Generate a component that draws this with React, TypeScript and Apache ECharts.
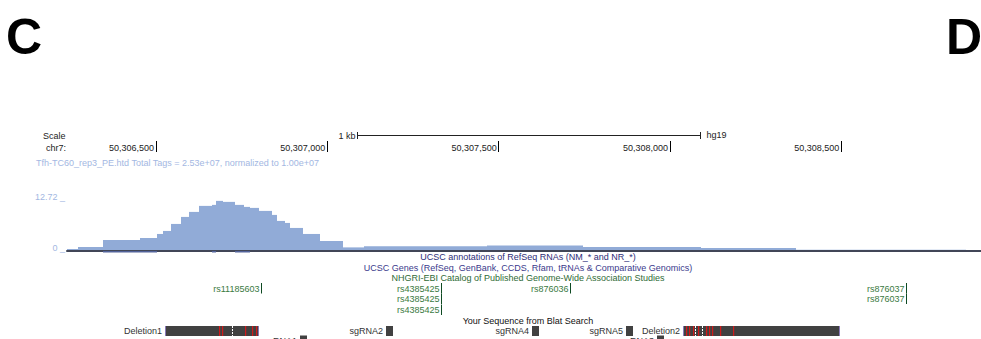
import React, { useEffect, useRef } from "react";
import * as echarts from "echarts";

// ---------- data ----------
const AXIS_MIN = 50306240;
const AXIS_MAX = 50308908;
const POSITION_TICKS = [50306500, 50307000, 50307500, 50308000, 50308500];
const COVERAGE_MAX = 12.72;
const COVERAGE_TICKS = [0, 12.72];

// coverage histogram (bin edges in bp, values normalized tags)
const BIN_EDGES = [
  50306240, 50306272, 50306345, 50306453, 50306503, 50306520, 50306544, 50306573,
  50306596, 50306626, 50306664, 50306675, 50306696, 50306731, 50306757, 50306774,
  50306801, 50306839, 50306853, 50306877, 50306891, 50306929, 50306979, 50307046,
  50307107, 50307466, 50307747, 50308091, 50308369, 50308865,
];
const COVERAGE = [
  0.5, 1.0, 2.75, 3.25, 4.25, 5.0, 6.75, 8.5, 9.75, 11.25, 11.5, 12.5, 12.25, 11.5,
  11.0, 10.75, 10.0, 9.0, 7.5, 7.0, 5.75, 4.25, 2.5, 0.9, 1.2, 1.4, 1.0, 0.75, 0.3,
];
const UNDER_STARTS = [50306345, 50306664, 50306731];
const UNDER_ENDS = [50306503, 50306675, 50306774];

const SCALE_BAR_START = 50307087;
const SCALE_BAR_END = 50308087;

const SNP_NAMES = ["rs11185603", "rs4385425", "rs4385425", "rs4385425", "rs876036", "rs876037", "rs876037"];
const SNP_POS = [50306807, 50307332, 50307332, 50307332, 50307709, 50308690, 50308690];
const SNP_ROWS = [0, 0, 1, 2, 0, 0, 1];

const BLAT_NAMES = ["Deletion1", "sgRNA2", "sgRNA4", "sgRNA5", "Deletion2", "sgRNA1", "sgRNA3"];
const BLAT_STARTS = [50306526, 50307172, 50307598, 50307872, 50308039, 50306920, 50307963];
const BLAT_ENDS = [50306801, 50307192, 50307618, 50307893, 50308497, 50306941, 50307983];
const BLAT_ROWS = [0, 0, 0, 0, 0, 1, 1];

const MISMATCHES = [
  50306684, 50306693, 50306760, 50306780, 50306792, 50308047, 50308057, 50308067,
  50308083, 50308105, 50308113, 50308123, 50308145, 50308183,
];
const GAPS = [50306722, 50308072, 50308095];

// ---------- layout / style ----------
const W = 981;
const H = 339;
const FONT = '"Liberation Sans", Arial, Helvetica, sans-serif';
const SNP_ROW_Y = [288.5, 299, 310];
const BLAT_ROW_Y = [331, 340.5];
const SCALE_Y = 135;
const CENTER_X = 528;
const HIST_COLOR = "#91abd7";
const LIGHT_BLUE = "#a3b7e2";

const withCommas = (v: number) => String(Math.round(v)).replace(/\B(?=(\d{3})+(?!\d))/g, ",");

export default function App() {
  const ref = useRef<HTMLDivElement>(null);

  useEffect(() => {
    if (!ref.current) return;
    const chart = echarts.init(ref.current, undefined, { renderer: "svg" });

    const histData = COVERAGE.map((v, i) => [BIN_EDGES[i], BIN_EDGES[i + 1], v]);
    const underData = UNDER_STARTS.map((s, i) => [s, UNDER_ENDS[i], 0]);
    const snpData = SNP_POS.map((p, i) => [p, SNP_ROWS[i]]);
    const blatData = BLAT_STARTS.map((s, i) => [s, BLAT_ENDS[i], BLAT_ROWS[i]]);
    const mismatchData = MISMATCHES.map((p) => [p, 0]);
    const gapData = GAPS.map((p) => [p, 0]);

    const txt = (text: string, x: number, y: number, fill: string, align = "left", extra: any = {}) => ({
      type: "text",
      x,
      y,
      silent: true,
      style: { text, fill, fontSize: 9, fontFamily: FONT, align, verticalAlign: "middle", ...extra },
    });

    chart.setOption({
      animation: false,
      backgroundColor: "#ffffff",
      grid: { left: 67, right: 0, top: 200, bottom: H - 251, containLabel: false },
      xAxis: [
        {
          type: "value",
          min: AXIS_MIN,
          max: AXIS_MAX,
          position: "bottom",
          z: 5,
          axisLine: { show: true, lineStyle: { color: "#414657", width: 2 } },
          axisTick: { show: false },
          axisLabel: { show: false },
          splitLine: { show: false },
        },
        {
          type: "value",
          min: AXIS_MIN,
          max: AXIS_MAX,
          position: "top",
          offset: 48,
          axisLine: { show: false },
          axisTick: {
            show: true,
            customValues: POSITION_TICKS,
            length: 11,
            lineStyle: { color: "#000", width: 1 },
          },
          axisLabel: {
            show: true,
            customValues: POSITION_TICKS,
            formatter: (v: number) => withCommas(v),
            align: "right",
            verticalAlign: "bottom",
            margin: 0,
            padding: [0, 2, 0, 0],
            color: "#222",
            fontSize: 9,
            fontFamily: FONT,
          },
          splitLine: { show: false },
        },
      ],
      yAxis: {
        type: "value",
        min: 0,
        max: COVERAGE_MAX,
        axisLine: { show: false },
        axisTick: { show: false },
        splitLine: { show: false },
        axisLabel: {
          show: true,
          customValues: COVERAGE_TICKS,
          formatter: (v: number) => (v === 0 ? "0" : v.toFixed(2)) + " _",
          color: LIGHT_BLUE,
          fontSize: 9,
          fontFamily: FONT,
          margin: 2,
          verticalAlign: "bottom",
          lineHeight: 6,
        },
      },
      graphic: [
        { type: "text", x: 6, y: 37, silent: true, style: { text: "C", fill: "#000", fontSize: 50, fontWeight: "bold", fontFamily: FONT, verticalAlign: "middle" } },
        { type: "text", x: 946, y: 37, silent: true, style: { text: "D", fill: "#000", fontSize: 50, fontWeight: "bold", fontFamily: FONT, verticalAlign: "middle" } },
        txt("Scale", 43, 136, "#222"),
        txt("chr7:", 46, 148, "#222"),
        txt("Tfh-TC60_rep3_PE.htd Total Tags = 2.53e+07, normalized to 1.00e+07", 36, 163, LIGHT_BLUE),
        txt("UCSC annotations of RefSeq RNAs (NM_* and NR_*)", CENTER_X, 257, "#2e2e78", "center"),
        txt("UCSC Genes (RefSeq, GenBank, CCDS, Rfam, tRNAs & Comparative Genomics)", CENTER_X, 267.5, "#3a3a8c", "center"),
        txt("NHGRI-EBI Catalog of Published Genome-Wide Association Studies", CENTER_X, 278, "#2f6b36", "center"),
        txt("Your Sequence from Blat Search", CENTER_X, 320.5, "#111", "center"),
      ],
      series: [
        {
          type: "custom",
          name: "coverage",
          xAxisIndex: 0,
          yAxisIndex: 0,
          clip: false,
          encode: { x: [0, 1], y: 2 },
          data: histData,
          renderItem: (_p: any, api: any) => {
            const a = api.coord([api.value(0), 0]);
            const b = api.coord([api.value(1), api.value(2)]);
            const x0 = Math.round(a[0]);
            const x1 = Math.round(b[0]);
            return {
              type: "rect",
              shape: { x: x0, y: b[1], width: x1 - x0, height: a[1] - b[1] },
              style: { fill: HIST_COLOR },
            };
          },
        },
        {
          type: "custom",
          name: "under",
          clip: false,
          z: 6,
          encode: { x: [0, 1], y: 2 },
          data: underData,
          renderItem: (_p: any, api: any) => {
            const a = api.coord([api.value(0), 0]);
            const b = api.coord([api.value(1), 0]);
            return {
              type: "rect",
              shape: { x: Math.round(a[0]), y: a[1], width: Math.round(b[0]) - Math.round(a[0]), height: 1.5 },
              style: { fill: "#52639a" },
            };
          },
        },
        {
          type: "custom",
          name: "scalebar",
          clip: false,
          encode: { x: [0, 1] },
          data: [[SCALE_BAR_START, SCALE_BAR_END]],
          renderItem: (_p: any, api: any) => {
            const x0 = Math.round(api.coord([api.value(0), 0])[0]) + 0.5;
            const x1 = Math.round(api.coord([api.value(1), 0])[0]) + 0.5;
            const ls = { stroke: "#222", lineWidth: 1 };
            return {
              type: "group",
              children: [
                { type: "line", shape: { x1: x0, y1: SCALE_Y + 0.5, x2: x1, y2: SCALE_Y + 0.5 }, style: ls },
                { type: "line", shape: { x1: x0, y1: SCALE_Y - 3, x2: x0, y2: SCALE_Y + 4 }, style: ls },
                { type: "line", shape: { x1: x1, y1: SCALE_Y - 3, x2: x1, y2: SCALE_Y + 4 }, style: ls },
                { type: "text", x: x0 - 2, y: SCALE_Y + 0.5, style: { text: "1 kb", fill: "#222", fontSize: 9, fontFamily: FONT, align: "right", verticalAlign: "middle" } },
                { type: "text", x: x1 + 6, y: SCALE_Y, style: { text: "hg19", fill: "#222", fontSize: 9, fontFamily: FONT, align: "left", verticalAlign: "middle" } },
              ],
            };
          },
        },
        {
          type: "custom",
          name: "gwas",
          clip: false,
          encode: { x: 0 },
          data: snpData,
          renderItem: (p: any, api: any) => {
            const x = Math.round(api.coord([api.value(0), 0])[0]) + 0.5;
            const y = SNP_ROW_Y[api.value(1)];
            return {
              type: "group",
              children: [
                { type: "line", shape: { x1: x, y1: y - 5.5, x2: x, y2: y + 5 }, style: { stroke: "#0e4a22", lineWidth: 1 } },
                { type: "text", x: x - 2, y, style: { text: SNP_NAMES[p.dataIndex], fill: "#3a7a42", fontSize: 9, fontFamily: FONT, align: "right", verticalAlign: "middle" } },
              ],
            };
          },
        },
        {
          type: "custom",
          name: "blat",
          clip: false,
          encode: { x: [0, 1] },
          data: blatData,
          renderItem: (p: any, api: any) => {
            const x0 = Math.round(api.coord([api.value(0), 0])[0]);
            const x1 = Math.round(api.coord([api.value(1), 0])[0]);
            const y = BLAT_ROW_Y[api.value(2)];
            const isDel = BLAT_NAMES[p.dataIndex].startsWith("Deletion");
            const children: any[] = [
              { type: "rect", shape: { x: x0, y: y - 5, width: x1 - x0, height: 10 }, style: { fill: "#414141" } },
              { type: "text", x: x0 - 3, y, style: { text: BLAT_NAMES[p.dataIndex], fill: "#333", fontSize: 9, fontFamily: FONT, align: "right", verticalAlign: "middle" } },
            ];
            if (isDel) {
              children.push({ type: "rect", shape: { x: x0, y: y - 5, width: 1, height: 10 }, style: { fill: "#8a7ab8" } });
              children.push({ type: "rect", shape: { x: x1 - 1, y: y - 5, width: 1, height: 10 }, style: { fill: "#8a7ab8" } });
            }
            return { type: "group", children };
          },
        },
        {
          type: "custom",
          name: "mismatch",
          clip: false,
          z: 3,
          encode: { x: 0 },
          data: mismatchData,
          renderItem: (_p: any, api: any) => {
            const x = Math.round(api.coord([api.value(0), 0])[0]);
            const y = BLAT_ROW_Y[0];
            return { type: "rect", shape: { x, y: y - 5, width: 1.2, height: 10 }, style: { fill: "#d11a1a" } };
          },
        },
        {
          type: "custom",
          name: "gap",
          clip: false,
          z: 3,
          encode: { x: 0 },
          data: gapData,
          renderItem: (_p: any, api: any) => {
            const x = Math.round(api.coord([api.value(0), 0])[0]) + 0.5;
            const y = BLAT_ROW_Y[0];
            return {
              type: "line",
              shape: { x1: x, y1: y - 5, x2: x, y2: y + 5 },
              style: { stroke: "#ffffff", lineWidth: 1, lineDash: [2, 1] },
            };
          },
        },
      ],
    });

    return () => chart.dispose();
  }, []);

  return <div ref={ref} style={{ position: "absolute", left: 0, top: 0, width: W, height: H, background: "#fff" }} />;
}
